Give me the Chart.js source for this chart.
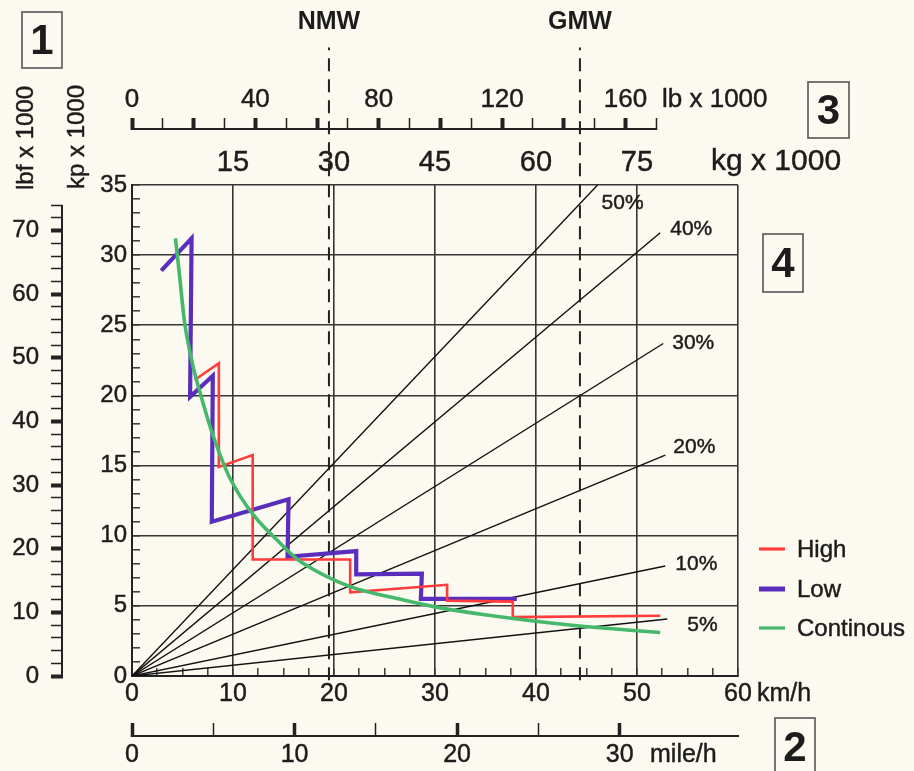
<!DOCTYPE html>
<html><head><meta charset="utf-8">
<script src="https://cdn.jsdelivr.net/npm/chart.js@4/dist/chart.umd.min.js"></script>
<style>html,body{margin:0;padding:0;background:#fcfaf0;}canvas{display:block;}</style>
</head><body>
<canvas id="c" width="914" height="771"></canvas>
<script>
// ---------- data ----------
const highSpeed = [6.2, 8.6, 8.6, 11.95, 11.95, 21.6, 21.6, 31.2, 31.2, 37.7, 37.7, 52.3];
const highForce = [21.1, 22.3, 14.9, 15.75, 8.3, 8.3, 5.96, 6.5, 5.37, 5.3, 4.2, 4.3];
const lowSpeed = [2.9, 5.9, 5.75, 8.0, 7.9, 15.5, 15.4, 22.2, 22.2, 28.7, 28.6, 38.1];
const lowForce = [28.9, 31.2, 19.9, 21.4, 11.0, 12.6, 8.5, 8.9, 7.25, 7.3, 5.5, 5.5];
const contSpeed = [4.3, 4.7, 5.25, 6.0, 6.7, 8.0, 9.7, 12.0, 14.7, 17.0, 21.6, 26.9, 30.8, 35.1, 41.7, 47.0, 52.3];
const contForce = [31.2, 28.6, 25.0, 22.2, 20.3, 17.2, 14.1, 11.5, 9.45, 8.0, 6.37, 5.42, 4.82, 4.35, 3.76, 3.4, 3.1];
const seriesLabels = ['High', 'Low', 'Continous'];

const gradeLabels = ['50%', '40%', '30%', '20%', '10%', '5%'];
const gradeEndSpeed = [46.1, 52.3, 52.6, 52.8, 52.8, 53.0];
const gradeEndForce = [35.0, 31.6, 23.7, 15.75, 7.84, 4.06];

const markerLabels = ['NMW', 'GMW'];
const markerSpeed = [19.5, 44.35];
const markerTopForce = 44.8;

const kmhMax = 60, kpMax = 35;
const kgMax = 90, lbMax = 196.5, lbfMax = 35 * 2.2046, mphMax = 60 / 1.609344;
const lbLast = 170, lbfLast = 74, mphLast = 35;

// ---------- styles ----------
const FAM = "'Liberation Sans', Arial, Helvetica, sans-serif";
const INK = '#1c1c1c', GRID = '#363636';
const STROKE = 0.45;
const font = (s, w) => ({ family: FAM, size: s, weight: w || 'normal' });
const mult = (v, m) => Math.abs(v / m - Math.round(v / m)) < 1e-6;
const pts = (xs, ys) => xs.map((x, i) => ({ x, y: ys[i] }));
const tickStyle = { color: INK, textStrokeColor: INK, textStrokeWidth: STROKE, autoSkip: false, maxRotation: 0 };

const datasets = [
  { label: seriesLabels[0], data: pts(highSpeed, highForce), borderColor: '#ff3b3b', borderWidth: 2.6, order: 2, tension: 0 },
  { label: seriesLabels[1], data: pts(lowSpeed, lowForce), borderColor: '#5a2dbd', borderWidth: 4.2, order: 3, tension: 0 },
  { label: seriesLabels[2], data: pts(contSpeed, contForce), borderColor: '#45b86c', borderWidth: 3.6, order: 1, tension: 0.35 }
];
gradeLabels.forEach((g, i) => datasets.push({
  label: g, data: [{ x: 0, y: 0 }, { x: gradeEndSpeed[i], y: gradeEndForce[i] }],
  borderColor: '#111', borderWidth: 1.4, order: 10, tension: 0
}));
markerLabels.forEach((m, i) => datasets.push({
  label: m, data: [{ x: markerSpeed[i], y: -0.3 }, { x: markerSpeed[i], y: markerTopForce }],
  borderColor: '#222', borderWidth: 2, borderDash: [13, 8], clip: false, order: 9, tension: 0
}));
datasets.forEach(d => { d.showLine = true; d.pointRadius = 0; d.fill = false; });

function txt(ctx, t, x, y) {
  ctx.lineWidth = STROKE; ctx.strokeStyle = INK;
  ctx.strokeText(t, x, y); ctx.fillText(t, x, y);
}

const extras = {
  id: 'extras',
  beforeDraw(chart) {
    const { ctx, width, height } = chart;
    ctx.save(); ctx.fillStyle = '#fcfaf0'; ctx.fillRect(0, 0, width, height); ctx.restore();
  },
  afterDraw(chart) {
    const { ctx, scales } = chart;
    ctx.save();
    ctx.strokeStyle = '#222'; ctx.lineWidth = 2;
    const lb = scales.lb;
    ctx.beginPath(); ctx.moveTo(lb.getPixelForValue(0), lb.bottom - 1); ctx.lineTo(lb.getPixelForValue(lbLast), lb.bottom - 1); ctx.stroke();
    const lbf = scales.lbf;
    ctx.beginPath(); ctx.moveTo(lbf.right - 1, lbf.getPixelForValue(0)); ctx.lineTo(lbf.right - 1, lbf.getPixelForValue(lbfLast)); ctx.stroke();

    ctx.fillStyle = INK; ctx.textBaseline = 'middle';
    ctx.textAlign = 'left';
    ctx.font = `26px ${FAM}`; txt(ctx, 'lb x 1000', 662, 100);
    ctx.font = `30px ${FAM}`; txt(ctx, 'kg x 1000', 711, 162);
    ctx.font = `25px ${FAM}`; txt(ctx, 'km/h', 757, 694);
    txt(ctx, 'mile/h', 650, 755);
    ctx.font = `24px ${FAM}`; ctx.textAlign = 'center';
    [['lbf x 1000', 26, 138], ['kp x 1000', 77, 137]].forEach(([t, x, y]) => {
      ctx.save(); ctx.translate(x, y); ctx.rotate(-Math.PI / 2); txt(ctx, t, 0, 0); ctx.restore();
    });
    ctx.font = `bold 25px ${FAM}`;
    markerLabels.forEach((m, i) => ctx.fillText(m, scales.x.getPixelForValue(markerSpeed[i]), 22));
    const off = [[4, 18], [10, -3], [9, 0], [8, -8], [10, -2], [20, 6]];
    ctx.font = `21px ${FAM}`; ctx.textAlign = 'left';
    gradeLabels.forEach((g, i) => {
      const px = scales.x.getPixelForValue(gradeEndSpeed[i]) + off[i][0];
      const py = scales.y.getPixelForValue(gradeEndForce[i]) + off[i][1];
      txt(ctx, g, px, py);
    });
    const ly = [549, 589, 628];
    ctx.font = `24px ${FAM}`;
    chart.data.datasets.slice(0, 3).forEach((d, i) => {
      ctx.strokeStyle = d.borderColor; ctx.lineWidth = i === 1 ? 5 : 3.2;
      ctx.beginPath(); ctx.moveTo(759, ly[i]); ctx.lineTo(785, ly[i]); ctx.stroke();
      ctx.fillStyle = INK; txt(ctx, d.label, 797, ly[i] + 1);
    });
    ctx.textAlign = 'center';
    ctx.font = `bold 42px ${FAM}`;
    [['1', 22, 12, 40, 56], ['2', 775, 718, 40, 58], ['3', 808, 82, 41, 56], ['4', 763, 234, 40, 58]].forEach(([t, x, y, w, h]) => {
      ctx.strokeStyle = '#555'; ctx.lineWidth = 1.6;
      ctx.strokeRect(x, y, w, h);
      ctx.fillStyle = INK; ctx.fillText(t, x + w / 2, y + h / 2 + 2);
    });
    ctx.restore();
  }
};

new Chart(document.getElementById('c'), {
  type: 'scatter',
  data: { datasets },
  options: {
    responsive: false, devicePixelRatio: 1, animation: false,
    layout: { padding: { left: 0, top: 0, right: 176, bottom: 0 } },
    plugins: { legend: { display: false }, tooltip: { enabled: false } },
    scales: {
      x: {
        type: 'linear', position: 'bottom', min: 0, max: kmhMax, weight: 0,
        afterFit: s => { s.height = 60; },
        ticks: { ...tickStyle, stepSize: 2.5, padding: 11, font: font(25),
          callback: v => mult(v, 10) ? String(v) : '' },
        grid: { color: c => mult(c.tick.value, 10) ? GRID : 'transparent', lineWidth: 1.6,
          tickColor: GRID, tickWidth: 1.5, tickLength: -8 },
        border: { display: true, color: '#222', width: 2 }
      },
      mph: {
        type: 'linear', position: 'bottom', min: 0, max: mphMax, weight: 1,
        afterFit: s => { s.height = 35; },
        afterBuildTicks: s => { s.ticks = s.ticks.filter(t => t.value <= mphLast + 1e-6); },
        ticks: { ...tickStyle, stepSize: 5, padding: 17, font: font(25),
          callback: v => mult(v, 10) ? String(v) : '' },
        grid: { drawOnChartArea: false, tickLength: -13, tickColor: '#222',
          tickWidth: c => (c.tick && mult(c.tick.value, 10)) ? 3.5 : 1.5 },
        border: { display: true, color: '#222', width: 2 }
      },
      y: {
        type: 'linear', position: 'left', min: 0, max: kpMax, weight: 0,
        afterFit: s => { s.width = 69; },
        ticks: { ...tickStyle, stepSize: 1, padding: 13, font: font(24),
          callback: v => mult(v, 5) ? String(v) : '' },
        grid: { color: c => mult(c.tick.value, 5) ? GRID : 'transparent', lineWidth: 1.6,
          tickColor: GRID, tickWidth: 1.5, tickLength: -8 },
        border: { display: true, color: '#222', width: 2 }
      },
      lbf: {
        type: 'linear', position: 'left', min: 0, max: lbfMax, weight: 1,
        afterFit: s => { s.width = 63; },
        afterBuildTicks: s => { s.ticks = s.ticks.filter(t => t.value <= lbfLast + 1e-6); },
        ticks: { ...tickStyle, stepSize: 2, padding: 12, font: font(24),
          callback: v => mult(v, 10) ? String(v) : '' },
        grid: { drawOnChartArea: false, tickLength: 12, tickColor: '#222',
          tickWidth: c => (c.tick && mult(c.tick.value, 10)) ? 4 : 1.5 },
        border: { display: false }
      },
      kg: {
        type: 'linear', position: 'top', min: 0, max: kgMax, weight: 0,
        afterFit: s => { s.height = 55; },
        ticks: { ...tickStyle, stepSize: 15, padding: 5, font: font(29),
          callback: v => (v > 0 && v < kgMax) ? String(v) : '' },
        grid: { display: false, drawTicks: false },
        border: { display: false }
      },
      lb: {
        type: 'linear', position: 'top', min: 0, max: lbMax, weight: 1,
        afterFit: s => { s.height = 130; },
        afterBuildTicks: s => { s.ticks = s.ticks.filter(t => t.value <= lbLast + 1e-6); },
        ticks: { ...tickStyle, stepSize: 10, padding: 3, font: font(26),
          callback: v => mult(v, 40) ? String(v) : '' },
        grid: { drawOnChartArea: false, tickLength: 12, tickColor: '#222',
          tickWidth: c => (c.tick && mult(c.tick.value, 20)) ? 4 : 1.5 },
        border: { display: false }
      }
    }
  },
  plugins: [extras]
});
</script>
</body></html>
